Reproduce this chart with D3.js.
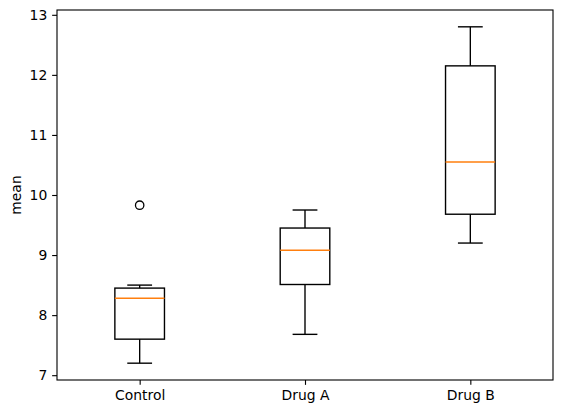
<!DOCTYPE html>
<html>
<head>
<meta charset="utf-8">
<script src="https://cdn.jsdelivr.net/npm/d3@7"></script>
<style>
  body { margin: 0; background: #fff; }
  text { font-family: "DejaVu Sans", sans-serif; }
</style>
</head>
<body>
<svg id="chart" width="563" height="414"></svg>
<script>
// box plot summary
var groups   = ["Control", "Drug A", "Drug B"];
var whiskLo  = [7.2, 7.68, 9.2];
var q1       = [7.6, 8.51, 9.68];
var medians  = [8.28, 9.08, 10.55];
var q3       = [8.45, 9.45, 12.15];
var whiskHi  = [8.5, 9.75, 12.8];
var outliers = [[9.83], [], []];
var yTicks   = [7, 8, 9, 10, 11, 12, 13];

var svg = d3.select("#chart");
// plot area (window.top is read-only, so use other names)
var pLeft = 57, pRight = 553, pTop = 10, pBottom = 380;

var pos = groups.map(function(d, i) { return i + 1; });

var x = d3.scaleLinear().domain([0.5, 3.5]).range([pLeft, pRight]);
// matplotlib style 5% margins
var lo = d3.min(whiskLo), hi = d3.max(whiskHi);
var pad = (hi - lo) * 0.05;
var y = d3.scaleLinear().domain([lo - pad, hi + pad]).range([pBottom, pTop]);

var boxW = 0.3, capW = 0.15;
var lw = 1.39;

var g = svg.append("g");

groups.forEach(function(name, i)
{
    var p = pos[i];
    // whiskers
    g.append("line")
        .attr("x1", x(p)).attr("x2", x(p))
        .attr("y1", y(q1[i])).attr("y2", y(whiskLo[i]))
        .attr("stroke", "black").attr("stroke-width", lw);
    g.append("line")
        .attr("x1", x(p)).attr("x2", x(p))
        .attr("y1", y(q3[i])).attr("y2", y(whiskHi[i]))
        .attr("stroke", "black").attr("stroke-width", lw);
    // caps
    [whiskLo[i], whiskHi[i]].forEach(function(v)
    {
        g.append("line")
            .attr("x1", x(p - capW / 2)).attr("x2", x(p + capW / 2))
            .attr("y1", y(v)).attr("y2", y(v))
            .attr("stroke", "black").attr("stroke-width", lw);
    });
    // box
    g.append("rect")
        .attr("x", x(p - boxW / 2))
        .attr("y", y(q3[i]))
        .attr("width", x(p + boxW / 2) - x(p - boxW / 2))
        .attr("height", y(q1[i]) - y(q3[i]))
        .attr("fill", "none")
        .attr("stroke", "black").attr("stroke-width", lw);
    // median
    g.append("line")
        .attr("x1", x(p - boxW / 2)).attr("x2", x(p + boxW / 2))
        .attr("y1", y(medians[i])).attr("y2", y(medians[i]))
        .attr("stroke", "#ff7f0e").attr("stroke-width", lw);
    // fliers
    g.selectAll(null).data(outliers[i]).enter()
        .append("circle")
        .attr("cx", x(p))
        .attr("cy", function(d) { return y(d); })
        .attr("r", 4.2)
        .attr("fill", "none")
        .attr("stroke", "black").attr("stroke-width", 1.3);
});

// axes
var xAxis = d3.axisBottom(x)
    .tickValues(pos)
    .tickFormat(function(d) { return groups[d - 1]; })
    .tickSize(4.86).tickPadding(4.86);
var yAxis = d3.axisLeft(y)
    .tickValues(yTicks)
    .tickFormat(d3.format("d"))
    .tickSize(4.86).tickPadding(4.86);

svg.append("g")
    .attr("transform", "translate(0," + pBottom + ")")
    .call(xAxis)
    .call(function(s) { s.select(".domain").remove(); });
svg.append("g")
    .attr("transform", "translate(" + pLeft + ",0)")
    .call(yAxis)
    .call(function(s) { s.select(".domain").remove(); });

svg.selectAll(".tick text")
    .attr("font-size", 13.9)
    .attr("font-family", "DejaVu Sans")
    .attr("fill", "black");
svg.selectAll(".tick line").attr("stroke", "black").attr("stroke-width", 1.11);

// frame
svg.append("rect")
    .attr("x", pLeft).attr("y", pTop)
    .attr("width", pRight - pLeft).attr("height", pBottom - pTop)
    .attr("fill", "none")
    .attr("stroke", "black").attr("stroke-width", 1.11);

svg.append("text")
    .attr("transform", "translate(21," + ((pTop + pBottom) / 2) + ") rotate(-90)")
    .attr("text-anchor", "middle")
    .attr("font-size", 13.9)
    .text("mean");
</script>
</body>
</html>
